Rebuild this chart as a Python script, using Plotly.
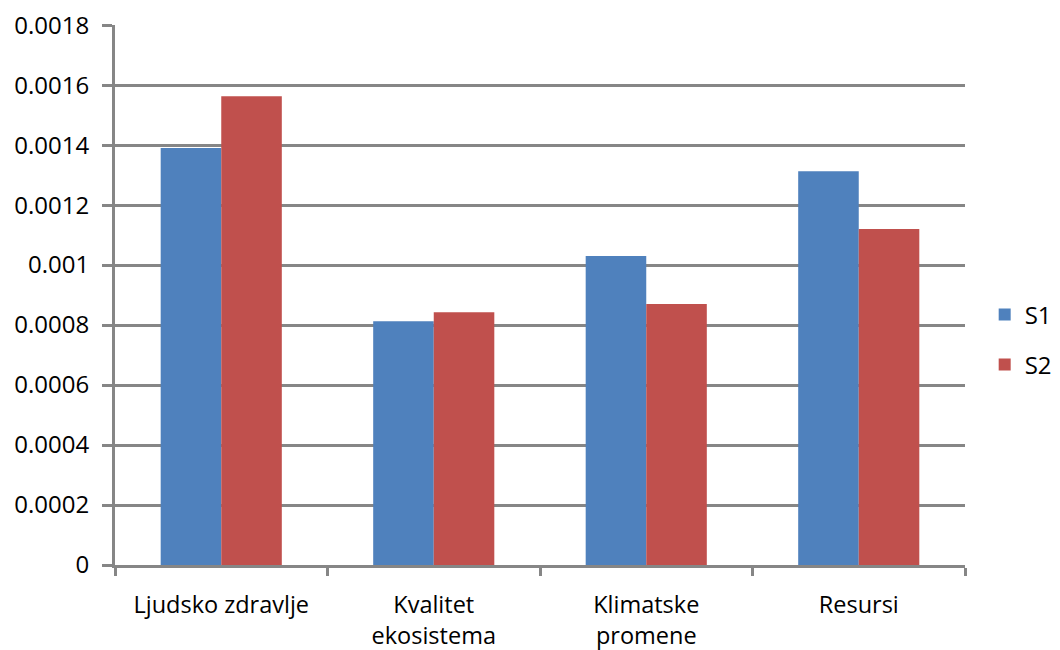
import plotly.graph_objects as go

categories = ["Ljudsko zdravlje", "Kvalitet<br>ekosistema", "Klimatske<br>promene", "Resursi"]
s1 = [0.00139, 0.000813, 0.00103, 0.001313]
s2 = [0.001563, 0.000843, 0.00087, 0.00112]
y_ticks = [0, 0.0002, 0.0004, 0.0006, 0.0008, 0.001, 0.0012, 0.0014, 0.0016, 0.0018]
y_tick_text = ["0", "0.0002", "0.0004", "0.0006", "0.0008", "0.001", "0.0012", "0.0014", "0.0016", "0.0018"]

font = "Open Sans, Liberation Sans, sans-serif"
grid = "#868686"

fig = go.Figure()
fig.add_trace(go.Bar(name="S1", x=categories, y=s1, legendgroup="a",
                     marker=dict(color="#4F81BD", line=dict(width=0))))
fig.add_trace(go.Bar(name="S2", x=categories, y=s2, legendgroup="b",
                     marker=dict(color="#C0504D", line=dict(width=0))))

fig.update_layout(
    width=1060, height=650,
    margin=dict(l=107, r=103, t=17, b=93),
    paper_bgcolor="white", plot_bgcolor="white",
    barmode="group", bargap=0.43, bargroupgap=0,
    font=dict(family=font, size=24, color="black"),
    legend=dict(xref="container", yref="paper", x=0.9214, y=0.417,
                xanchor="left", yanchor="middle", traceorder="grouped",
                tracegroupgap=16, font=dict(size=24), itemwidth=30),
    xaxis=dict(type="category", tickson="boundaries", ticks="outside", ticklen=8,
               tickwidth=3, tickcolor=grid, showline=True, linecolor=grid, linewidth=3,
               showgrid=False, tickfont=dict(size=23.5), ticklabelstandoff=17,
               automargin=False, ticklabeloverflow="allow"),
    yaxis=dict(range=[0, 0.0018005], tickvals=y_ticks, ticktext=y_tick_text,
               showgrid=True, gridcolor=grid, gridwidth=3, showline=True,
               linecolor=grid, linewidth=3, ticks="outside", ticklen=10, tickwidth=3,
               tickcolor=grid, zeroline=False, tickfont=dict(size=24), ticklabelstandoff=8,
               automargin=False, ticklabeloverflow="allow"),
)

fig.write_html("out.html")
